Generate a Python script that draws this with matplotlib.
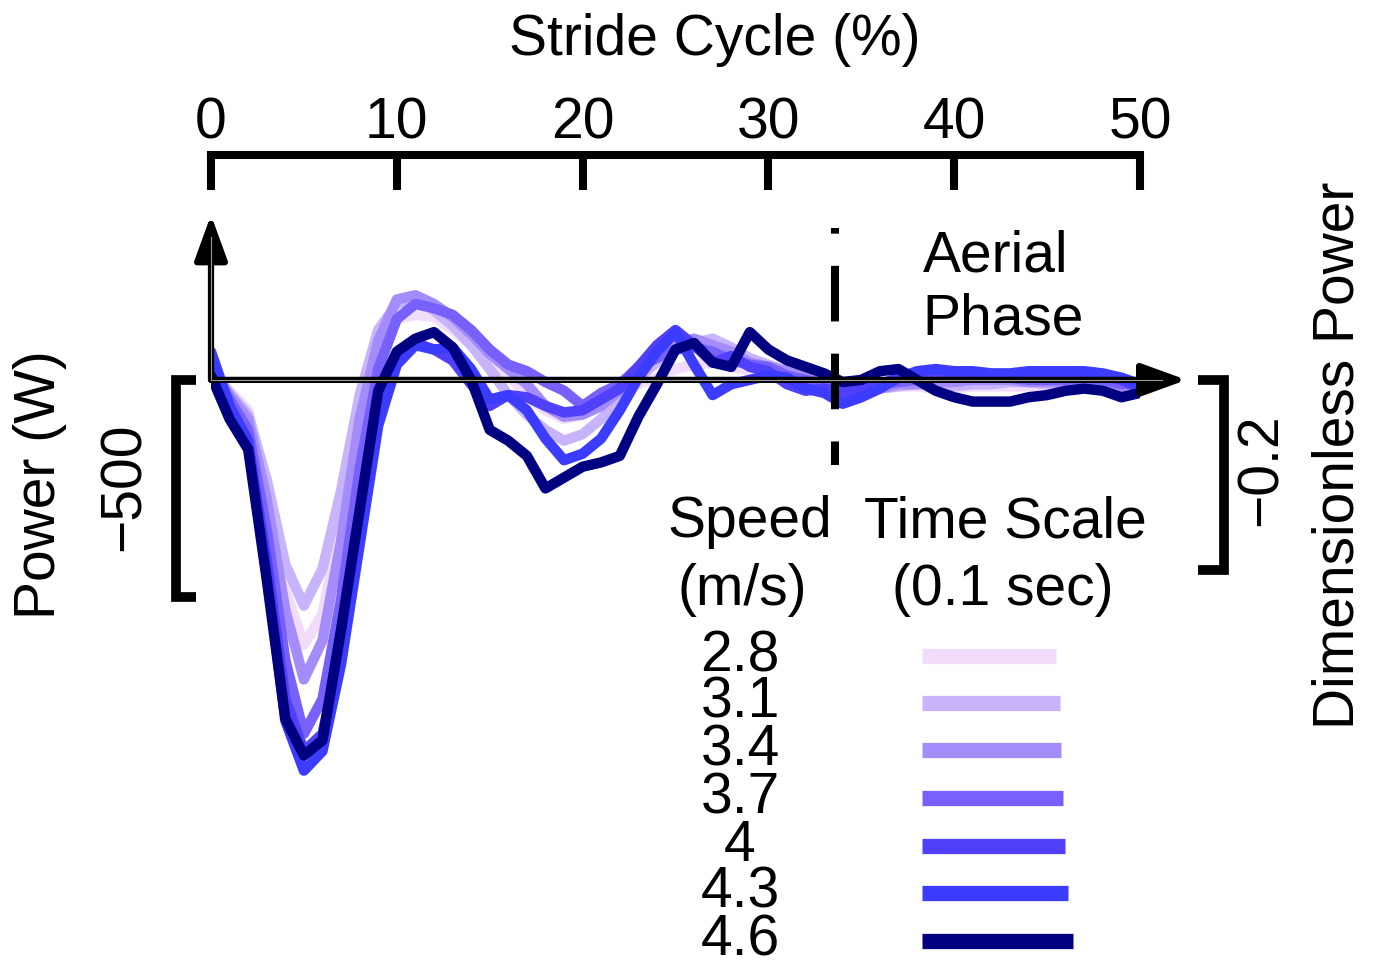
import numpy as np
import matplotlib
matplotlib.use('Agg')
import matplotlib.pyplot as plt
from matplotlib import transforms
from matplotlib.patches import FancyArrowPatch

plt.rcParams['font.family'] = ['Liberation Sans', 'DejaVu Sans']

# ---- data ----
stride_pct = np.arange(0, 51)          # % of stride cycle, 1% samples
speeds = ['2.8', '3.1', '3.4', '3.7', '4', '4.3', '4.6']   # m/s
colors = ['#f2dcfc', '#c8b4fa', '#a48cfa', '#7860fa', '#5040fa', '#3c3cff', '#000080']

# power (W)
p28 = [20, -25, -70, -255, -485, -610, -540, -320, -70, 80, 140, 150, 145, 115, 80, 45, 10, -35, -70, -90,
       -80, -60, -30, -10, 5, 25, 35, 40, 30, 20, 10, 0, -10, -20, -25, -25, -20, -15, -15, -20,
       -20, -15, -15, -15, -15, -20, -20, -15, -15, -15, -10]
p31 = [20, -30, -80, -230, -425, -520, -435, -255, -35, 115, 175, 185, 160, 125, 80, 25, -35, -80, -115, -140,
       -125, -90, -45, 5, 40, 70, 85, 95, 75, 50, 35, 20, 5, -5, -20, -25, -20, -15, -10, -15,
       -15, -10, -10, -5, -5, -10, -15, -15, -20, -20, -15]
p34 = [25, -35, -90, -275, -530, -690, -600, -370, -90, 90, 185, 195, 175, 145, 105, 60, 25, -10, -60, -85,
       -80, -60, -25, 25, 60, 80, 95, 80, 65, 40, 30, 20, 5, -10, -25, -30, -20, -10, -10, -5,
       -5, 0, 0, 0, -5, -5, -5, -5, -5, -15, -25]
p37 = [30, -45, -115, -345, -645, -815, -735, -505, -205, 25, 140, 175, 165, 150, 115, 70, 35, 20, -5, -25,
       -60, -30, -10, 30, 50, 70, 75, 65, 45, 35, 30, 10, 0, -10, -25, -20, -10, -5, 0, 5,
       5, 5, 5, 5, 0, 0, 0, 5, 0, -10, -5]
p40 = [45, -70, -150, -415, -735, -855, -815, -620, -345, -80, 45, 85, 70, 45, -10, -60, -35, -40, -60, -75,
       -70, -45, -20, 30, 80, 115, 80, 40, 55, 30, 20, -10, -25, -20, -30, -20, -10, 5, 15, 20,
       15, 10, 5, 5, 5, 5, 10, 15, 10, 0, -20]
p43 = [65, -60, -140, -440, -785, -900, -855, -655, -380, -105, 35, 80, 70, 75, 25, -45, -35, -70, -135, -185,
       -170, -135, -70, 5, 65, 110, 35, -35, -10, 0, 10, 5, -20, -30, -55, -40, -20, 5, 20, 25,
       20, 20, 15, 15, 20, 20, 20, 20, 15, 5, -10]
p46 = [10, -90, -160, -460, -780, -865, -830, -575, -300, -25, 65, 95, 110, 75, 0, -115, -140, -175, -250, -225,
       -200, -190, -175, -85, -10, 70, 85, 40, 30, 110, 70, 45, 30, 15, -5, 0, 20, 25, 0, -25,
       -40, -50, -50, -50, -40, -35, -25, -20, -25, -40, -30]
power = [p28, p31, p34, p37, p40, p43, p46]

# 0.1 s expressed as % of stride, per speed
time_scale = [7.21, 7.43, 7.48, 7.59, 7.70, 7.86, 8.13]

aerial_start = 33.6      # % stride
power_bar = 500          # W scale bar
dimless_bar = 0.2        # dimensionless scale bar
W_per_dimless = 2188     # W for one dimensionless unit (from bar lengths)

# ---- figure ----
fig = plt.figure(figsize=(13.76, 9.66), dpi=100)
ax = fig.add_axes([211 / 1376, 0, 929 / 1376, 1 - 155 / 966])
ax.set_xlim(0, 50)
ax.set_ylim(-1350, 518)

for s in ['left', 'right', 'bottom']:
    ax.spines[s].set_visible(False)
ax.spines['top'].set_linewidth(5.8)
ax.xaxis.tick_top()
ax.set_yticks([])
ax.set_xticks([0, 10, 20, 30, 40, 50])
ax.tick_params(axis='x', direction='in', length=25, width=5.8, pad=3, labelsize=41)

for p, c in zip(power, colors):
    ax.plot(stride_pct, p, color=c, lw=7.5, solid_joinstyle='round', solid_capstyle='round', zorder=3)

# axes arrows
for tip in [(52.5, 0), (0, 380)]:
    arr = FancyArrowPatch((0, 0), tip, arrowstyle='-|>,head_length=1.1,head_width=0.4',
                          mutation_scale=25, color='k', lw=4.5, zorder=5, clip_on=False,
                          shrinkA=0, shrinkB=0)
    ax.add_patch(arr)
ax.plot([0, 51.2], [0, 0], color='#9a9a9a', lw=0.8, zorder=6, clip_on=False)
ax.plot([0, 0], [0, 330], color='#9a9a9a', lw=0.8, zorder=6, clip_on=False)

# aerial phase marker
ax.plot([aerial_start, aerial_start], [350, -196], color='k', lw=5.8,
        linestyle=(6.2, (6.9, 4.0)), zorder=4)
ax.text(38.3, 285, 'Aerial', fontsize=41, ha='left', va='center')
ax.text(38.3, 138, 'Phase', fontsize=41, ha='left', va='center')

# scale bars
ax.plot([-0.8, -1.88, -1.88, -0.8], [0, 0, -power_bar, -power_bar], color='k', lw=7,
        solid_joinstyle='miter', solid_capstyle='butt', clip_on=False)
rb = -dimless_bar * W_per_dimless
ax.plot([53.1, 54.5, 54.5, 53.1], [0, 0, rb, rb], color='k', lw=7,
        solid_joinstyle='miter', solid_capstyle='butt', clip_on=False)

fig.text(715 / 1376, 1 - 40 / 966, 'Stride Cycle (%)', fontsize=41, ha='center', va='center')
fig.text(40 / 1376, 1 - 485 / 966, 'Power (W)', fontsize=41, rotation=90, ha='center', va='center')
fig.text(125 / 1376, 1 - 487 / 966, '\u2212500', fontsize=41, rotation=90, ha='center', va='center')
fig.text(1262 / 1376, 1 - 470 / 966, '\u22120.2', fontsize=41, rotation=90, ha='center', va='center')
fig.text(1338 / 1376, 1 - 455 / 966, 'Dimensionless Power', fontsize=41, rotation=90,
         ha='center', va='center')

# legend
fig.text(750 / 1376, 1 - 522 / 966, 'Speed', fontsize=41, ha='center', va='center')
fig.text(742 / 1376, 1 - 590 / 966, '(m/s)', fontsize=41, ha='center', va='center')
fig.text(1005 / 1376, 1 - 522 / 966, 'Time Scale', fontsize=41, ha='center', va='center')
fig.text(1003 / 1376, 1 - 590 / 966, '(0.1 sec)', fontsize=41, ha='center', va='center')

trans = transforms.blended_transform_factory(ax.transData, fig.transFigure)
legend_y = [656, 703, 750, 798, 846, 893, 941]
for sp, c, ts, yp in zip(speeds, colors, time_scale, legend_y):
    yf = 1 - yp / 966
    fig.text(740 / 1376, yf, sp, fontsize=41, ha='center', va='center')
    ax.plot([38.27, 38.27 + ts], [yf, yf], color=c, lw=11, solid_capstyle='butt',
            transform=trans, clip_on=False)

fig.savefig('out.png', dpi=100, facecolor='white')
